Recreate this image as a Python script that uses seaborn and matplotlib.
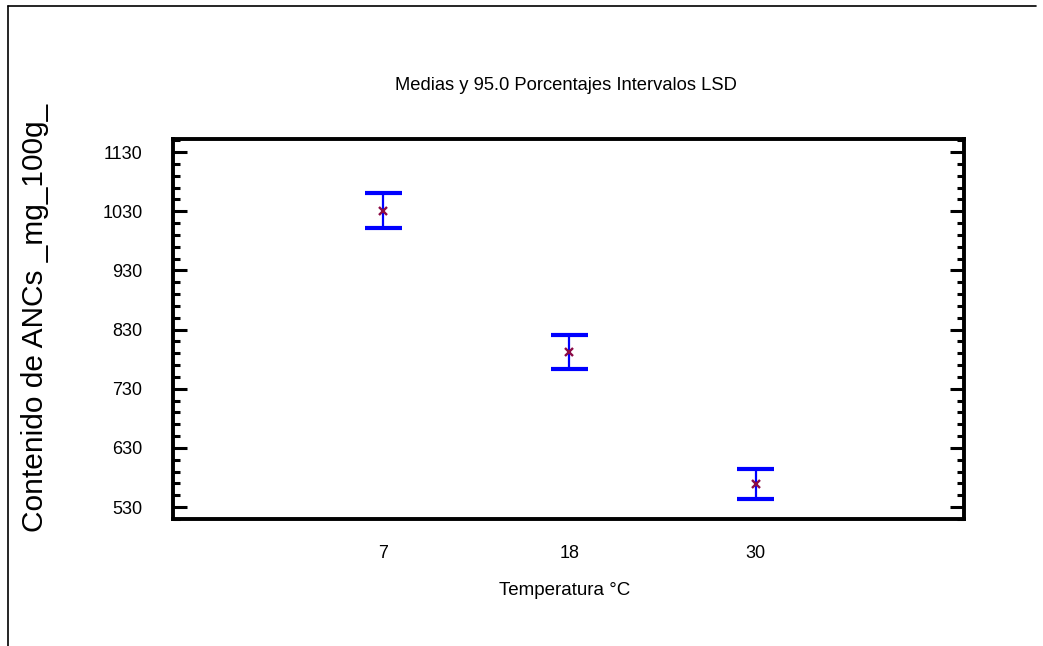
import numpy as np
import pandas as pd
import matplotlib
matplotlib.use("Agg")
import matplotlib.pyplot as plt
from matplotlib.ticker import MultipleLocator
from matplotlib.lines import Line2D
import seaborn as sns

# ---- data ----
temps = ["7", "18", "30"]
means = [1031, 792, 569]
lower = [1002, 763, 544]
upper = [1061, 821, 594]

title = "Medias y 95.0 Porcentajes Intervalos LSD"
xlabel = "Temperatura °C"
ylabel = "Contenido de ANCs _mg_100g_"

sns.set_theme(style="white")
plt.rcParams["font.family"] = ["Liberation Sans", "DejaVu Sans"]
plt.rcParams["text.color"] = "black"
plt.rcParams["axes.labelcolor"] = "black"
plt.rcParams["xtick.color"] = "black"
plt.rcParams["ytick.color"] = "black"

W, H = 1043, 646
fig = plt.figure(figsize=(W / 100, H / 100), dpi=100)
L, R, T, B = 173, 964, 139, 519
ax = fig.add_axes([L / W, 1 - B / H, (R - L) / W, (B - T) / H])

df = pd.DataFrame({"temp": temps, "mean": means, "lo": lower, "hi": upper})
pos = np.arange(len(temps))

ax.vlines(pos, df["lo"], df["hi"], color="#0000FF", lw=1.6, zorder=2)
ax.hlines(df["lo"], pos - 0.1, pos + 0.1, color="#0000FF", lw=3.0, zorder=2)
ax.hlines(df["hi"], pos - 0.1, pos + 0.1, color="#0000FF", lw=3.0, zorder=2)
sns.pointplot(data=df, x="temp", y="mean", order=temps, errorbar=None,
              linestyle="none", marker="x", markersize=6, markeredgewidth=1.7,
              color="#8B0A45", ax=ax, zorder=3)

ax.set_xlim(-1.13, 3.12)
ax.set_ylim(510, 1152)
ax.yaxis.set_major_locator(MultipleLocator(100, offset=30))
ax.yaxis.set_minor_locator(MultipleLocator(20, offset=10))

for s in ax.spines.values():
    s.set_visible(True)
    s.set_linewidth(2.8)
    s.set_color("black")

ax.tick_params(axis="y", which="both", direction="in", left=True, right=True,
               width=2.2, color="black", labelsize=13, pad=22, labelcolor="black")
ax.tick_params(axis="y", which="major", length=10)
ax.tick_params(axis="y", which="minor", length=5)
ax.tick_params(axis="x", which="both", bottom=False, top=False, labelsize=13,
               pad=13, labelcolor="black")

ax.set_xlabel(xlabel, fontsize=13.5, va="top", color="black")
ax.xaxis.set_label_coords((565 - L) / (R - L), -(582 - B) / (B - T))
ax.set_ylabel("")

fig.text(566 / W, 1 - 85 / H, title, ha="center", va="center", fontsize=13.2,
         color="black")
fig.text(35 / W, 1 - 318 / H, ylabel, rotation=90, ha="center", va="center",
         fontsize=21.5, color="black")

# outer frame lines
fig.add_artist(Line2D([8 / W, 8 / W], [0, 1 - 6 / H], color="black", lw=1.2,
                      transform=fig.transFigure))
fig.add_artist(Line2D([8 / W, 1036 / W], [1 - 6 / H, 1 - 6 / H], color="black", lw=1.2,
                      transform=fig.transFigure))

fig.savefig("out.png", dpi=100)
